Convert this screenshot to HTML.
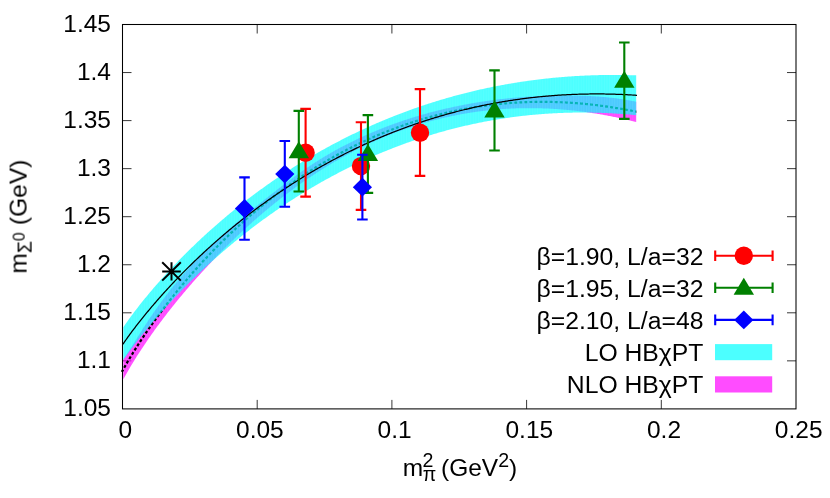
<!DOCTYPE html>
<html><head><meta charset="utf-8"><title>chart</title><style>html,body{margin:0;padding:0;background:#fff}body{width:830px;height:498px;overflow:hidden}</style></head><body>
<svg width="830" height="498" viewBox="0 0 830 498" style="display:block;font-family:'Liberation Sans',sans-serif">
<rect width="830" height="498" fill="#fff"/>
<filter id="g" x="-5%" y="-20%" width="110%" height="140%"><feOffset dx="0" dy="0"/></filter>
<clipPath id="c"><rect x="122.5" y="24.5" width="673.5" height="384.4"/></clipPath>
<path d="M257.20,408.9v-9M257.20,24.5v9M391.90,408.9v-9M391.90,24.5v9M526.60,408.9v-9M526.60,24.5v9M661.30,408.9v-9M661.30,24.5v9M122.5,360.85h9M796.0,360.85h-9M122.5,312.80h9M796.0,312.80h-9M122.5,264.75h9M796.0,264.75h-9M122.5,216.70h9M796.0,216.70h-9M122.5,168.65h9M796.0,168.65h-9M122.5,120.60h9M796.0,120.60h-9M122.5,72.55h9M796.0,72.55h-9" stroke="#000" stroke-width="1" fill="none" stroke-opacity="0.78"/>
<g>
<clipPath id="kd"><rect x="100" y="0" width="536.3" height="498"/></clipPath>
<pattern id="s" x="123.3" y="0" width="2.57" height="40" patternUnits="userSpaceOnUse"><rect x="0" y="0" width="1" height="40" fill="#fff" fill-opacity="0.06"/></pattern>
<clipPath id="km"><polygon points="123.3,359.32 124.0,358.28 125.0,356.79 126.0,355.29 127.0,353.77 128.0,352.24 129.0,350.69 130.0,349.14 131.0,347.57 132.0,346.00 133.0,344.42 134.0,342.84 135.0,341.25 136.0,339.66 137.0,338.08 138.0,336.49 139.0,334.90 140.0,333.32 141.0,331.74 142.0,330.16 143.0,328.59 144.0,327.03 145.0,325.48 146.0,323.94 147.0,322.40 148.0,320.88 149.0,319.37 150.0,317.87 151.0,316.38 152.0,314.91 153.0,313.45 154.0,312.00 155.0,310.56 156.0,309.14 157.0,307.72 158.0,306.32 159.0,304.93 160.0,303.55 161.0,302.18 162.0,300.83 163.0,299.48 164.0,298.15 165.0,296.82 166.0,295.51 167.0,294.21 168.0,292.91 169.0,291.63 170.0,290.36 171.0,289.10 172.0,287.85 173.0,286.61 174.0,285.38 175.0,284.16 176.0,282.95 177.0,281.75 178.0,280.56 179.0,279.38 180.0,278.21 181.0,277.05 182.0,275.89 183.0,274.75 184.0,273.61 185.0,272.49 186.0,271.37 187.0,270.26 188.0,269.16 189.0,268.07 190.0,266.98 191.0,265.90 192.0,264.83 193.0,263.77 194.0,262.71 195.0,261.66 196.0,260.62 197.0,259.58 198.0,258.55 199.0,257.53 200.0,256.51 201.0,255.50 202.0,254.50 203.0,253.50 204.0,252.51 205.0,251.52 206.0,250.54 207.0,249.56 208.0,248.59 209.0,247.62 210.0,246.66 211.0,245.71 212.0,244.76 213.0,243.81 214.0,242.87 215.0,241.93 216.0,241.00 217.0,240.07 218.0,239.15 219.0,238.23 220.0,237.31 221.0,236.40 222.0,235.49 223.0,234.59 224.0,233.69 225.0,232.79 226.0,231.90 227.0,231.01 228.0,230.13 229.0,229.24 230.0,228.37 231.0,227.49 232.0,226.62 233.0,225.75 234.0,224.88 235.0,224.02 236.0,223.16 237.0,222.30 238.0,221.45 239.0,220.60 240.0,219.75 241.0,218.91 242.0,218.06 243.0,217.22 244.0,216.38 245.0,215.55 246.0,214.72 247.0,213.89 248.0,213.06 249.0,212.23 250.0,211.41 251.0,210.59 252.0,209.77 253.0,208.95 254.0,208.13 255.0,207.32 256.0,206.51 257.0,205.70 258.0,204.89 259.0,204.08 260.0,203.28 261.0,202.48 262.0,201.68 263.0,200.88 264.0,200.08 265.0,199.28 266.0,198.49 267.0,197.70 268.0,196.90 269.0,196.11 270.0,195.33 271.0,194.54 272.0,193.75 273.0,192.97 274.0,192.19 275.0,191.41 276.0,190.63 277.0,189.85 278.0,189.08 279.0,188.30 280.0,187.53 281.0,186.77 282.0,186.00 283.0,185.24 284.0,184.48 285.0,183.72 286.0,182.96 287.0,182.21 288.0,181.46 289.0,180.72 290.0,179.97 291.0,179.23 292.0,178.50 293.0,177.76 294.0,177.03 295.0,176.30 296.0,175.58 297.0,174.86 298.0,174.14 299.0,173.43 300.0,172.72 301.0,172.01 302.0,171.31 303.0,170.61 304.0,169.92 305.0,169.23 306.0,168.54 307.0,167.86 308.0,167.18 309.0,166.50 310.0,165.83 311.0,165.17 312.0,164.51 313.0,163.85 314.0,163.20 315.0,162.55 316.0,161.90 317.0,161.26 318.0,160.63 319.0,160.00 320.0,159.37 321.0,158.75 322.0,158.14 323.0,157.53 324.0,156.92 325.0,156.32 326.0,155.72 327.0,155.13 328.0,154.54 329.0,153.96 330.0,153.38 331.0,152.81 332.0,152.24 333.0,151.67 334.0,151.11 335.0,150.56 336.0,150.00 337.0,149.45 338.0,148.91 339.0,148.37 340.0,147.83 341.0,147.30 342.0,146.77 343.0,146.24 344.0,145.72 345.0,145.20 346.0,144.69 347.0,144.17 348.0,143.67 349.0,143.16 350.0,142.66 351.0,142.16 352.0,141.67 353.0,141.18 354.0,140.69 355.0,140.21 356.0,139.73 357.0,139.25 358.0,138.78 359.0,138.31 360.0,137.84 361.0,137.38 362.0,136.92 363.0,136.46 364.0,136.01 365.0,135.56 366.0,135.11 367.0,134.67 368.0,134.23 369.0,133.79 370.0,133.35 371.0,132.92 372.0,132.50 373.0,132.07 374.0,131.65 375.0,131.23 376.0,130.82 377.0,130.40 378.0,129.99 379.0,129.59 380.0,129.18 381.0,128.78 382.0,128.39 383.0,127.99 384.0,127.60 385.0,127.21 386.0,126.83 387.0,126.44 388.0,126.06 389.0,125.69 390.0,125.31 391.0,124.94 392.0,124.57 393.0,124.21 394.0,123.85 395.0,123.49 396.0,123.13 397.0,122.78 398.0,122.42 399.0,122.07 400.0,121.73 401.0,121.39 402.0,121.05 403.0,120.71 404.0,120.37 405.0,120.04 406.0,119.71 407.0,119.38 408.0,119.06 409.0,118.74 410.0,118.42 411.0,118.10 412.0,117.79 413.0,117.48 414.0,117.17 415.0,116.86 416.0,116.56 417.0,116.26 418.0,115.96 419.0,115.66 420.0,115.37 421.0,115.08 422.0,114.79 423.0,114.50 424.0,114.22 425.0,113.94 426.0,113.66 427.0,113.38 428.0,113.11 429.0,112.84 430.0,112.57 431.0,112.30 432.0,112.04 433.0,111.78 434.0,111.52 435.0,111.26 436.0,111.01 437.0,110.76 438.0,110.51 439.0,110.26 440.0,110.01 441.0,109.77 442.0,109.53 443.0,109.29 444.0,109.05 445.0,108.82 446.0,108.59 447.0,108.36 448.0,108.13 449.0,107.91 450.0,107.69 451.0,107.46 452.0,107.25 453.0,107.03 454.0,106.82 455.0,106.60 456.0,106.40 457.0,106.19 458.0,105.98 459.0,105.78 460.0,105.58 461.0,105.38 462.0,105.18 463.0,104.99 464.0,104.80 465.0,104.61 466.0,104.42 467.0,104.23 468.0,104.05 469.0,103.87 470.0,103.69 471.0,103.51 472.0,103.33 473.0,103.16 474.0,102.99 475.0,102.82 476.0,102.65 477.0,102.49 478.0,102.32 479.0,102.16 480.0,102.00 481.0,101.85 482.0,101.69 483.0,101.54 484.0,101.39 485.0,101.24 486.0,101.09 487.0,100.94 488.0,100.80 489.0,100.66 490.0,100.52 491.0,100.38 492.0,100.25 493.0,100.12 494.0,99.99 495.0,99.86 496.0,99.73 497.0,99.60 498.0,99.48 499.0,99.36 500.0,99.24 501.0,99.12 502.0,99.01 503.0,98.89 504.0,98.78 505.0,98.67 506.0,98.56 507.0,98.46 508.0,98.35 509.0,98.25 510.0,98.15 511.0,98.05 512.0,97.96 513.0,97.86 514.0,97.77 515.0,97.68 516.0,97.59 517.0,97.50 518.0,97.42 519.0,97.34 520.0,97.25 521.0,97.17 522.0,97.10 523.0,97.02 524.0,96.95 525.0,96.88 526.0,96.80 527.0,96.74 528.0,96.67 529.0,96.61 530.0,96.54 531.0,96.48 532.0,96.42 533.0,96.36 534.0,96.31 535.0,96.26 536.0,96.20 537.0,96.15 538.0,96.10 539.0,96.06 540.0,96.01 541.0,95.97 542.0,95.93 543.0,95.89 544.0,95.85 545.0,95.82 546.0,95.78 547.0,95.75 548.0,95.72 549.0,95.69 550.0,95.66 551.0,95.64 552.0,95.61 553.0,95.59 554.0,95.57 555.0,95.55 556.0,95.54 557.0,95.52 558.0,95.51 559.0,95.50 560.0,95.49 561.0,95.48 562.0,95.47 563.0,95.47 564.0,95.47 565.0,95.47 566.0,95.47 567.0,95.47 568.0,95.47 569.0,95.48 570.0,95.49 571.0,95.50 572.0,95.51 573.0,95.52 574.0,95.53 575.0,95.55 576.0,95.57 577.0,95.59 578.0,95.61 579.0,95.64 580.0,95.66 581.0,95.69 582.0,95.72 583.0,95.75 584.0,95.79 585.0,95.83 586.0,95.87 587.0,95.91 588.0,95.95 589.0,96.00 590.0,96.05 591.0,96.10 592.0,96.16 593.0,96.22 594.0,96.28 595.0,96.34 596.0,96.40 597.0,96.47 598.0,96.54 599.0,96.62 600.0,96.69 601.0,96.77 602.0,96.86 603.0,96.94 604.0,97.03 605.0,97.12 606.0,97.22 607.0,97.32 608.0,97.42 609.0,97.52 610.0,97.63 611.0,97.74 612.0,97.86 613.0,97.98 614.0,98.10 615.0,98.22 616.0,98.35 617.0,98.48 618.0,98.62 619.0,98.76 620.0,98.90 621.0,99.05 622.0,99.20 623.0,99.35 624.0,99.51 625.0,99.67 626.0,99.84 627.0,100.01 628.0,100.18 629.0,100.36 630.0,100.54 631.0,100.72 632.0,100.91 633.0,101.10 634.0,101.30 635.0,101.50 636.2,101.75 636.2,121.98 635.0,121.67 634.0,121.42 633.0,121.18 632.0,120.93 631.0,120.69 630.0,120.45 629.0,120.21 628.0,119.97 627.0,119.74 626.0,119.51 625.0,119.28 624.0,119.05 623.0,118.82 622.0,118.60 621.0,118.38 620.0,118.16 619.0,117.94 618.0,117.73 617.0,117.52 616.0,117.31 615.0,117.10 614.0,116.90 613.0,116.70 612.0,116.50 611.0,116.30 610.0,116.10 609.0,115.91 608.0,115.72 607.0,115.53 606.0,115.34 605.0,115.16 604.0,114.98 603.0,114.80 602.0,114.62 601.0,114.45 600.0,114.27 599.0,114.10 598.0,113.94 597.0,113.77 596.0,113.61 595.0,113.45 594.0,113.29 593.0,113.13 592.0,112.98 591.0,112.83 590.0,112.68 589.0,112.53 588.0,112.39 587.0,112.24 586.0,112.11 585.0,111.97 584.0,111.83 583.0,111.70 582.0,111.57 581.0,111.44 580.0,111.32 579.0,111.19 578.0,111.07 577.0,110.96 576.0,110.84 575.0,110.73 574.0,110.61 573.0,110.51 572.0,110.40 571.0,110.30 570.0,110.19 569.0,110.10 568.0,110.00 567.0,109.90 566.0,109.81 565.0,109.72 564.0,109.64 563.0,109.55 562.0,109.47 561.0,109.39 560.0,109.31 559.0,109.24 558.0,109.17 557.0,109.10 556.0,109.03 555.0,108.96 554.0,108.90 553.0,108.84 552.0,108.78 551.0,108.73 550.0,108.67 549.0,108.62 548.0,108.58 547.0,108.53 546.0,108.49 545.0,108.45 544.0,108.41 543.0,108.38 542.0,108.34 541.0,108.31 540.0,108.28 539.0,108.26 538.0,108.24 537.0,108.22 536.0,108.20 535.0,108.18 534.0,108.17 533.0,108.16 532.0,108.15 531.0,108.15 530.0,108.14 529.0,108.14 528.0,108.15 527.0,108.15 526.0,108.16 525.0,108.17 524.0,108.18 523.0,108.20 522.0,108.21 521.0,108.23 520.0,108.26 519.0,108.28 518.0,108.31 517.0,108.34 516.0,108.37 515.0,108.41 514.0,108.45 513.0,108.49 512.0,108.53 511.0,108.58 510.0,108.63 509.0,108.68 508.0,108.73 507.0,108.79 506.0,108.85 505.0,108.91 504.0,108.97 503.0,109.04 502.0,109.11 501.0,109.18 500.0,109.26 499.0,109.34 498.0,109.42 497.0,109.50 496.0,109.59 495.0,109.67 494.0,109.76 493.0,109.86 492.0,109.95 491.0,110.05 490.0,110.16 489.0,110.26 488.0,110.37 487.0,110.48 486.0,110.59 485.0,110.70 484.0,110.82 483.0,110.94 482.0,111.07 481.0,111.19 480.0,111.32 479.0,111.45 478.0,111.59 477.0,111.72 476.0,111.86 475.0,112.00 474.0,112.15 473.0,112.30 472.0,112.45 471.0,112.60 470.0,112.76 469.0,112.92 468.0,113.08 467.0,113.24 466.0,113.41 465.0,113.58 464.0,113.75 463.0,113.93 462.0,114.11 461.0,114.29 460.0,114.47 459.0,114.66 458.0,114.85 457.0,115.04 456.0,115.24 455.0,115.44 454.0,115.64 453.0,115.84 452.0,116.05 451.0,116.26 450.0,116.47 449.0,116.69 448.0,116.91 447.0,117.13 446.0,117.35 445.0,117.58 444.0,117.81 443.0,118.04 442.0,118.28 441.0,118.51 440.0,118.76 439.0,119.00 438.0,119.25 437.0,119.50 436.0,119.75 435.0,120.01 434.0,120.27 433.0,120.53 432.0,120.79 431.0,121.06 430.0,121.33 429.0,121.61 428.0,121.88 427.0,122.16 426.0,122.45 425.0,122.73 424.0,123.02 423.0,123.31 422.0,123.61 421.0,123.91 420.0,124.21 419.0,124.51 418.0,124.82 417.0,125.13 416.0,125.44 415.0,125.76 414.0,126.08 413.0,126.40 412.0,126.73 411.0,127.05 410.0,127.39 409.0,127.72 408.0,128.06 407.0,128.40 406.0,128.74 405.0,129.09 404.0,129.44 403.0,129.79 402.0,130.15 401.0,130.51 400.0,130.87 399.0,131.24 398.0,131.61 397.0,131.98 396.0,132.36 395.0,132.73 394.0,133.12 393.0,133.50 392.0,133.89 391.0,134.28 390.0,134.68 389.0,135.07 388.0,135.47 387.0,135.88 386.0,136.29 385.0,136.70 384.0,137.11 383.0,137.53 382.0,137.95 381.0,138.37 380.0,138.80 379.0,139.23 378.0,139.67 377.0,140.10 376.0,140.54 375.0,140.99 374.0,141.43 373.0,141.89 372.0,142.34 371.0,142.80 370.0,143.26 369.0,143.72 368.0,144.19 367.0,144.66 366.0,145.13 365.0,145.61 364.0,146.09 363.0,146.58 362.0,147.06 361.0,147.56 360.0,148.05 359.0,148.55 358.0,149.05 357.0,149.55 356.0,150.06 355.0,150.57 354.0,151.09 353.0,151.61 352.0,152.13 351.0,152.66 350.0,153.18 349.0,153.72 348.0,154.25 347.0,154.79 346.0,155.34 345.0,155.88 344.0,156.43 343.0,156.98 342.0,157.54 341.0,158.10 340.0,158.67 339.0,159.23 338.0,159.80 337.0,160.38 336.0,160.96 335.0,161.54 334.0,162.12 333.0,162.71 332.0,163.30 331.0,163.90 330.0,164.50 329.0,165.10 328.0,165.70 327.0,166.31 326.0,166.93 325.0,167.54 324.0,168.16 323.0,168.79 322.0,169.41 321.0,170.05 320.0,170.68 319.0,171.32 318.0,171.96 317.0,172.61 316.0,173.25 315.0,173.91 314.0,174.56 313.0,175.22 312.0,175.89 311.0,176.55 310.0,177.22 309.0,177.90 308.0,178.58 307.0,179.26 306.0,179.94 305.0,180.63 304.0,181.32 303.0,182.02 302.0,182.72 301.0,183.42 300.0,184.13 299.0,184.84 298.0,185.56 297.0,186.27 296.0,187.00 295.0,187.72 294.0,188.45 293.0,189.18 292.0,189.92 291.0,190.66 290.0,191.41 289.0,192.15 288.0,192.90 287.0,193.66 286.0,194.42 285.0,195.18 284.0,195.95 283.0,196.72 282.0,197.49 281.0,198.27 280.0,199.05 279.0,199.84 278.0,200.63 277.0,201.42 276.0,202.22 275.0,203.02 274.0,203.82 273.0,204.63 272.0,205.44 271.0,206.26 270.0,207.08 269.0,207.90 268.0,208.73 267.0,209.56 266.0,210.39 265.0,211.23 264.0,212.08 263.0,212.92 262.0,213.77 261.0,214.63 260.0,215.49 259.0,216.35 258.0,217.21 257.0,218.08 256.0,218.96 255.0,219.83 254.0,220.72 253.0,221.60 252.0,222.49 251.0,223.38 250.0,224.28 249.0,225.18 248.0,226.09 247.0,227.00 246.0,227.91 245.0,228.83 244.0,229.75 243.0,230.67 242.0,231.60 241.0,232.53 240.0,233.47 239.0,234.41 238.0,235.35 237.0,236.30 236.0,237.26 235.0,238.21 234.0,239.17 233.0,240.14 232.0,241.11 231.0,242.08 230.0,243.06 229.0,244.04 228.0,245.02 227.0,246.01 226.0,247.00 225.0,248.00 224.0,249.00 223.0,250.01 222.0,251.01 221.0,252.03 220.0,253.05 219.0,254.07 218.0,255.09 217.0,256.12 216.0,257.15 215.0,258.19 214.0,259.23 213.0,260.28 212.0,261.33 211.0,262.38 210.0,263.44 209.0,264.51 208.0,265.57 207.0,266.64 206.0,267.72 205.0,268.80 204.0,269.88 203.0,270.97 202.0,272.07 201.0,273.17 200.0,274.27 199.0,275.38 198.0,276.49 197.0,277.60 196.0,278.73 195.0,279.85 194.0,280.98 193.0,282.12 192.0,283.26 191.0,284.41 190.0,285.56 189.0,286.72 188.0,287.88 187.0,289.05 186.0,290.22 185.0,291.40 184.0,292.58 183.0,293.77 182.0,294.96 181.0,296.16 180.0,297.37 179.0,298.58 178.0,299.80 177.0,301.02 176.0,302.25 175.0,303.49 174.0,304.73 173.0,305.98 172.0,307.23 171.0,308.49 170.0,309.76 169.0,311.03 168.0,312.31 167.0,313.60 166.0,314.90 165.0,316.20 164.0,317.50 163.0,318.82 162.0,320.14 161.0,321.47 160.0,322.81 159.0,324.16 158.0,325.51 157.0,326.87 156.0,328.24 155.0,329.62 154.0,331.01 153.0,332.40 152.0,333.80 151.0,335.22 150.0,336.64 149.0,338.07 148.0,339.52 147.0,340.97 146.0,342.43 145.0,343.90 144.0,345.39 143.0,346.88 142.0,348.39 141.0,349.90 140.0,351.43 139.0,352.98 138.0,354.53 137.0,356.10 136.0,357.68 135.0,359.28 134.0,360.89 133.0,362.52 132.0,364.16 131.0,365.82 130.0,367.50 129.0,369.20 128.0,370.91 127.0,372.65 126.0,374.41 125.0,376.20 124.0,378.02 123.3,379.31"/></clipPath><clipPath id="kc"><polygon points="123.3,327.27 124.0,326.23 125.0,324.76 126.0,323.32 127.0,321.90 128.0,320.49 129.0,319.10 130.0,317.72 131.0,316.36 132.0,315.01 133.0,313.67 134.0,312.34 135.0,311.03 136.0,309.72 137.0,308.42 138.0,307.13 139.0,305.85 140.0,304.58 141.0,303.32 142.0,302.07 143.0,300.82 144.0,299.59 145.0,298.36 146.0,297.14 147.0,295.92 148.0,294.71 149.0,293.51 150.0,292.32 151.0,291.14 152.0,289.96 153.0,288.78 154.0,287.62 155.0,286.46 156.0,285.30 157.0,284.15 158.0,283.01 159.0,281.88 160.0,280.75 161.0,279.62 162.0,278.51 163.0,277.39 164.0,276.29 165.0,275.19 166.0,274.09 167.0,273.00 168.0,271.91 169.0,270.84 170.0,269.76 171.0,268.69 172.0,267.63 173.0,266.57 174.0,265.51 175.0,264.46 176.0,263.42 177.0,262.38 178.0,261.35 179.0,260.32 180.0,259.29 181.0,258.27 182.0,257.26 183.0,256.25 184.0,255.24 185.0,254.24 186.0,253.24 187.0,252.25 188.0,251.26 189.0,250.27 190.0,249.29 191.0,248.32 192.0,247.35 193.0,246.38 194.0,245.42 195.0,244.46 196.0,243.51 197.0,242.56 198.0,241.61 199.0,240.67 200.0,239.73 201.0,238.80 202.0,237.87 203.0,236.94 204.0,236.02 205.0,235.10 206.0,234.19 207.0,233.28 208.0,232.37 209.0,231.47 210.0,230.57 211.0,229.67 212.0,228.78 213.0,227.90 214.0,227.01 215.0,226.13 216.0,225.26 217.0,224.38 218.0,223.52 219.0,222.65 220.0,221.79 221.0,220.93 222.0,220.08 223.0,219.23 224.0,218.38 225.0,217.53 226.0,216.69 227.0,215.86 228.0,215.02 229.0,214.19 230.0,213.37 231.0,212.54 232.0,211.72 233.0,210.91 234.0,210.09 235.0,209.29 236.0,208.48 237.0,207.68 238.0,206.88 239.0,206.08 240.0,205.29 241.0,204.50 242.0,203.71 243.0,202.93 244.0,202.15 245.0,201.37 246.0,200.60 247.0,199.83 248.0,199.06 249.0,198.29 250.0,197.53 251.0,196.78 252.0,196.02 253.0,195.27 254.0,194.52 255.0,193.78 256.0,193.03 257.0,192.29 258.0,191.56 259.0,190.82 260.0,190.09 261.0,189.37 262.0,188.64 263.0,187.92 264.0,187.20 265.0,186.49 266.0,185.77 267.0,185.07 268.0,184.36 269.0,183.66 270.0,182.95 271.0,182.26 272.0,181.56 273.0,180.87 274.0,180.18 275.0,179.49 276.0,178.81 277.0,178.13 278.0,177.45 279.0,176.78 280.0,176.11 281.0,175.44 282.0,174.77 283.0,174.11 284.0,173.45 285.0,172.79 286.0,172.13 287.0,171.48 288.0,170.83 289.0,170.18 290.0,169.54 291.0,168.90 292.0,168.26 293.0,167.62 294.0,166.99 295.0,166.36 296.0,165.73 297.0,165.10 298.0,164.48 299.0,163.86 300.0,163.24 301.0,162.63 302.0,162.02 303.0,161.41 304.0,160.80 305.0,160.20 306.0,159.59 307.0,158.99 308.0,158.40 309.0,157.80 310.0,157.21 311.0,156.62 312.0,156.04 313.0,155.45 314.0,154.87 315.0,154.29 316.0,153.72 317.0,153.14 318.0,152.57 319.0,152.00 320.0,151.44 321.0,150.87 322.0,150.31 323.0,149.75 324.0,149.20 325.0,148.64 326.0,148.09 327.0,147.54 328.0,147.00 329.0,146.45 330.0,145.91 331.0,145.37 332.0,144.84 333.0,144.30 334.0,143.77 335.0,143.24 336.0,142.72 337.0,142.19 338.0,141.67 339.0,141.15 340.0,140.63 341.0,140.12 342.0,139.61 343.0,139.10 344.0,138.59 345.0,138.08 346.0,137.58 347.0,137.08 348.0,136.58 349.0,136.08 350.0,135.59 351.0,135.10 352.0,134.61 353.0,134.12 354.0,133.64 355.0,133.16 356.0,132.68 357.0,132.20 358.0,131.72 359.0,131.25 360.0,130.78 361.0,130.31 362.0,129.85 363.0,129.38 364.0,128.92 365.0,128.46 366.0,128.00 367.0,127.55 368.0,127.10 369.0,126.65 370.0,126.20 371.0,125.75 372.0,125.31 373.0,124.87 374.0,124.43 375.0,123.99 376.0,123.55 377.0,123.12 378.0,122.69 379.0,122.26 380.0,121.84 381.0,121.41 382.0,120.99 383.0,120.57 384.0,120.15 385.0,119.74 386.0,119.33 387.0,118.92 388.0,118.51 389.0,118.10 390.0,117.69 391.0,117.29 392.0,116.89 393.0,116.49 394.0,116.10 395.0,115.70 396.0,115.31 397.0,114.92 398.0,114.54 399.0,114.15 400.0,113.77 401.0,113.39 402.0,113.01 403.0,112.63 404.0,112.25 405.0,111.88 406.0,111.51 407.0,111.14 408.0,110.78 409.0,110.41 410.0,110.05 411.0,109.69 412.0,109.33 413.0,108.97 414.0,108.62 415.0,108.27 416.0,107.92 417.0,107.57 418.0,107.22 419.0,106.88 420.0,106.54 421.0,106.20 422.0,105.86 423.0,105.52 424.0,105.19 425.0,104.86 426.0,104.53 427.0,104.20 428.0,103.87 429.0,103.55 430.0,103.23 431.0,102.91 432.0,102.59 433.0,102.27 434.0,101.96 435.0,101.64 436.0,101.33 437.0,101.03 438.0,100.72 439.0,100.42 440.0,100.11 441.0,99.81 442.0,99.51 443.0,99.22 444.0,98.92 445.0,98.63 446.0,98.34 447.0,98.05 448.0,97.77 449.0,97.48 450.0,97.20 451.0,96.92 452.0,96.64 453.0,96.36 454.0,96.09 455.0,95.81 456.0,95.54 457.0,95.27 458.0,95.00 459.0,94.74 460.0,94.47 461.0,94.21 462.0,93.95 463.0,93.69 464.0,93.44 465.0,93.18 466.0,92.93 467.0,92.68 468.0,92.43 469.0,92.19 470.0,91.94 471.0,91.70 472.0,91.46 473.0,91.22 474.0,90.98 475.0,90.74 476.0,90.51 477.0,90.28 478.0,90.05 479.0,89.82 480.0,89.59 481.0,89.37 482.0,89.15 483.0,88.93 484.0,88.71 485.0,88.49 486.0,88.27 487.0,88.06 488.0,87.85 489.0,87.64 490.0,87.43 491.0,87.22 492.0,87.02 493.0,86.82 494.0,86.62 495.0,86.42 496.0,86.22 497.0,86.02 498.0,85.83 499.0,85.64 500.0,85.45 501.0,85.26 502.0,85.07 503.0,84.89 504.0,84.71 505.0,84.52 506.0,84.35 507.0,84.17 508.0,83.99 509.0,83.82 510.0,83.65 511.0,83.47 512.0,83.31 513.0,83.14 514.0,82.97 515.0,82.81 516.0,82.65 517.0,82.49 518.0,82.33 519.0,82.17 520.0,82.02 521.0,81.87 522.0,81.71 523.0,81.56 524.0,81.42 525.0,81.27 526.0,81.13 527.0,80.98 528.0,80.84 529.0,80.70 530.0,80.57 531.0,80.43 532.0,80.30 533.0,80.16 534.0,80.03 535.0,79.90 536.0,79.78 537.0,79.65 538.0,79.53 539.0,79.41 540.0,79.28 541.0,79.17 542.0,79.05 543.0,78.93 544.0,78.82 545.0,78.71 546.0,78.60 547.0,78.49 548.0,78.38 549.0,78.28 550.0,78.17 551.0,78.07 552.0,77.97 553.0,77.87 554.0,77.78 555.0,77.68 556.0,77.59 557.0,77.50 558.0,77.41 559.0,77.32 560.0,77.23 561.0,77.14 562.0,77.06 563.0,76.98 564.0,76.90 565.0,76.82 566.0,76.74 567.0,76.67 568.0,76.59 569.0,76.52 570.0,76.45 571.0,76.38 572.0,76.32 573.0,76.25 574.0,76.19 575.0,76.12 576.0,76.06 577.0,76.00 578.0,75.95 579.0,75.89 580.0,75.84 581.0,75.78 582.0,75.73 583.0,75.68 584.0,75.64 585.0,75.59 586.0,75.55 587.0,75.50 588.0,75.46 589.0,75.42 590.0,75.38 591.0,75.35 592.0,75.31 593.0,75.28 594.0,75.25 595.0,75.22 596.0,75.19 597.0,75.16 598.0,75.14 599.0,75.11 600.0,75.09 601.0,75.07 602.0,75.05 603.0,75.03 604.0,75.02 605.0,75.00 606.0,74.99 607.0,74.98 608.0,74.97 609.0,74.96 610.0,74.96 611.0,74.95 612.0,74.95 613.0,74.95 614.0,74.95 615.0,74.95 616.0,74.95 617.0,74.95 618.0,74.96 619.0,74.97 620.0,74.98 621.0,74.99 622.0,75.00 623.0,75.01 624.0,75.03 625.0,75.05 626.0,75.07 627.0,75.09 628.0,75.11 629.0,75.13 630.0,75.15 631.0,75.18 632.0,75.21 633.0,75.24 634.0,75.27 635.0,75.30 636.2,75.34 636.2,115.19 635.0,115.08 634.0,114.98 633.0,114.89 632.0,114.80 631.0,114.71 630.0,114.62 629.0,114.53 628.0,114.45 627.0,114.37 626.0,114.28 625.0,114.21 624.0,114.13 623.0,114.05 622.0,113.98 621.0,113.91 620.0,113.84 619.0,113.77 618.0,113.70 617.0,113.64 616.0,113.58 615.0,113.51 614.0,113.46 613.0,113.40 612.0,113.34 611.0,113.29 610.0,113.24 609.0,113.19 608.0,113.14 607.0,113.09 606.0,113.05 605.0,113.00 604.0,112.96 603.0,112.92 602.0,112.89 601.0,112.85 600.0,112.82 599.0,112.79 598.0,112.76 597.0,112.73 596.0,112.70 595.0,112.68 594.0,112.66 593.0,112.63 592.0,112.62 591.0,112.60 590.0,112.58 589.0,112.57 588.0,112.56 587.0,112.55 586.0,112.54 585.0,112.54 584.0,112.53 583.0,112.53 582.0,112.53 581.0,112.53 580.0,112.53 579.0,112.54 578.0,112.55 577.0,112.56 576.0,112.57 575.0,112.58 574.0,112.59 573.0,112.61 572.0,112.63 571.0,112.65 570.0,112.67 569.0,112.69 568.0,112.72 567.0,112.75 566.0,112.78 565.0,112.81 564.0,112.84 563.0,112.88 562.0,112.92 561.0,112.96 560.0,113.00 559.0,113.04 558.0,113.08 557.0,113.13 556.0,113.18 555.0,113.23 554.0,113.28 553.0,113.34 552.0,113.39 551.0,113.45 550.0,113.51 549.0,113.57 548.0,113.64 547.0,113.70 546.0,113.77 545.0,113.84 544.0,113.91 543.0,113.99 542.0,114.06 541.0,114.14 540.0,114.22 539.0,114.30 538.0,114.38 537.0,114.47 536.0,114.56 535.0,114.65 534.0,114.74 533.0,114.83 532.0,114.92 531.0,115.02 530.0,115.12 529.0,115.22 528.0,115.32 527.0,115.43 526.0,115.54 525.0,115.64 524.0,115.75 523.0,115.87 522.0,115.98 521.0,116.10 520.0,116.22 519.0,116.34 518.0,116.46 517.0,116.58 516.0,116.71 515.0,116.84 514.0,116.97 513.0,117.10 512.0,117.24 511.0,117.37 510.0,117.51 509.0,117.65 508.0,117.79 507.0,117.94 506.0,118.08 505.0,118.23 504.0,118.38 503.0,118.54 502.0,118.69 501.0,118.85 500.0,119.00 499.0,119.17 498.0,119.33 497.0,119.49 496.0,119.66 495.0,119.83 494.0,120.00 493.0,120.17 492.0,120.34 491.0,120.52 490.0,120.70 489.0,120.88 488.0,121.06 487.0,121.25 486.0,121.43 485.0,121.62 484.0,121.81 483.0,122.01 482.0,122.20 481.0,122.40 480.0,122.60 479.0,122.80 478.0,123.00 477.0,123.21 476.0,123.42 475.0,123.63 474.0,123.84 473.0,124.05 472.0,124.27 471.0,124.48 470.0,124.70 469.0,124.93 468.0,125.15 467.0,125.38 466.0,125.60 465.0,125.83 464.0,126.07 463.0,126.30 462.0,126.54 461.0,126.78 460.0,127.02 459.0,127.26 458.0,127.51 457.0,127.75 456.0,128.00 455.0,128.25 454.0,128.51 453.0,128.76 452.0,129.02 451.0,129.28 450.0,129.54 449.0,129.81 448.0,130.07 447.0,130.34 446.0,130.61 445.0,130.88 444.0,131.16 443.0,131.44 442.0,131.71 441.0,132.00 440.0,132.28 439.0,132.57 438.0,132.85 437.0,133.14 436.0,133.44 435.0,133.73 434.0,134.03 433.0,134.32 432.0,134.63 431.0,134.93 430.0,135.23 429.0,135.54 428.0,135.85 427.0,136.16 426.0,136.48 425.0,136.79 424.0,137.11 423.0,137.43 422.0,137.75 421.0,138.08 420.0,138.41 419.0,138.74 418.0,139.07 417.0,139.40 416.0,139.74 415.0,140.08 414.0,140.42 413.0,140.76 412.0,141.11 411.0,141.45 410.0,141.80 409.0,142.15 408.0,142.51 407.0,142.86 406.0,143.22 405.0,143.58 404.0,143.95 403.0,144.31 402.0,144.68 401.0,145.05 400.0,145.42 399.0,145.80 398.0,146.17 397.0,146.55 396.0,146.93 395.0,147.32 394.0,147.70 393.0,148.09 392.0,148.48 391.0,148.88 390.0,149.27 389.0,149.67 388.0,150.07 387.0,150.47 386.0,150.88 385.0,151.28 384.0,151.69 383.0,152.10 382.0,152.52 381.0,152.93 380.0,153.35 379.0,153.77 378.0,154.20 377.0,154.62 376.0,155.05 375.0,155.48 374.0,155.91 373.0,156.35 372.0,156.79 371.0,157.23 370.0,157.67 369.0,158.11 368.0,158.56 367.0,159.01 366.0,159.46 365.0,159.92 364.0,160.37 363.0,160.83 362.0,161.30 361.0,161.76 360.0,162.23 359.0,162.70 358.0,163.17 357.0,163.64 356.0,164.12 355.0,164.60 354.0,165.08 353.0,165.56 352.0,166.05 351.0,166.54 350.0,167.03 349.0,167.52 348.0,168.02 347.0,168.52 346.0,169.02 345.0,169.52 344.0,170.03 343.0,170.53 342.0,171.05 341.0,171.56 340.0,172.08 339.0,172.59 338.0,173.12 337.0,173.64 336.0,174.17 335.0,174.69 334.0,175.23 333.0,175.76 332.0,176.30 331.0,176.84 330.0,177.38 329.0,177.92 328.0,178.47 327.0,179.02 326.0,179.57 325.0,180.12 324.0,180.68 323.0,181.24 322.0,181.80 321.0,182.37 320.0,182.94 319.0,183.51 318.0,184.08 317.0,184.66 316.0,185.23 315.0,185.82 314.0,186.40 313.0,186.99 312.0,187.57 311.0,188.17 310.0,188.76 309.0,189.36 308.0,189.96 307.0,190.56 306.0,191.16 305.0,191.77 304.0,192.38 303.0,193.00 302.0,193.61 301.0,194.23 300.0,194.85 299.0,195.48 298.0,196.10 297.0,196.73 296.0,197.37 295.0,198.00 294.0,198.64 293.0,199.28 292.0,199.93 291.0,200.57 290.0,201.22 289.0,201.87 288.0,202.53 287.0,203.19 286.0,203.85 285.0,204.51 284.0,205.18 283.0,205.85 282.0,206.52 281.0,207.20 280.0,207.87 279.0,208.55 278.0,209.24 277.0,209.93 276.0,210.61 275.0,211.31 274.0,212.00 273.0,212.70 272.0,213.40 271.0,214.11 270.0,214.82 269.0,215.53 268.0,216.24 267.0,216.96 266.0,217.68 265.0,218.40 264.0,219.12 263.0,219.85 262.0,220.58 261.0,221.32 260.0,222.06 259.0,222.80 258.0,223.54 257.0,224.29 256.0,225.04 255.0,225.79 254.0,226.55 253.0,227.31 252.0,228.07 251.0,228.84 250.0,229.60 249.0,230.38 248.0,231.15 247.0,231.93 246.0,232.71 245.0,233.50 244.0,234.29 243.0,235.08 242.0,235.87 241.0,236.67 240.0,237.47 239.0,238.28 238.0,239.08 237.0,239.90 236.0,240.71 235.0,241.53 234.0,242.35 233.0,243.17 232.0,244.00 231.0,244.83 230.0,245.67 229.0,246.51 228.0,247.35 227.0,248.19 226.0,249.04 225.0,249.90 224.0,250.75 223.0,251.61 222.0,252.47 221.0,253.34 220.0,254.21 219.0,255.08 218.0,255.96 217.0,256.84 216.0,257.73 215.0,258.61 214.0,259.51 213.0,260.40 212.0,261.30 211.0,262.20 210.0,263.11 209.0,264.02 208.0,264.93 207.0,265.85 206.0,266.77 205.0,267.70 204.0,268.63 203.0,269.56 202.0,270.50 201.0,271.44 200.0,272.38 199.0,273.33 198.0,274.29 197.0,275.24 196.0,276.20 195.0,277.17 194.0,278.14 193.0,279.11 192.0,280.09 191.0,281.07 190.0,282.06 189.0,283.05 188.0,284.04 187.0,285.04 186.0,286.04 185.0,287.05 184.0,288.06 183.0,289.08 182.0,290.10 181.0,291.12 180.0,292.15 179.0,293.19 178.0,294.23 177.0,295.27 176.0,296.32 175.0,297.37 174.0,298.43 173.0,299.49 172.0,300.56 171.0,301.63 170.0,302.70 169.0,303.79 168.0,304.87 167.0,305.96 166.0,307.06 165.0,308.16 164.0,309.27 163.0,310.38 162.0,311.50 161.0,312.62 160.0,313.75 159.0,314.89 158.0,316.03 157.0,317.17 156.0,318.32 155.0,319.48 154.0,320.64 153.0,321.81 152.0,322.99 151.0,324.17 150.0,325.36 149.0,326.55 148.0,327.75 147.0,328.96 146.0,330.17 145.0,331.39 144.0,332.62 143.0,333.86 142.0,335.10 141.0,336.35 140.0,337.61 139.0,338.87 138.0,340.14 137.0,341.43 136.0,342.72 135.0,344.02 134.0,345.33 133.0,346.64 132.0,347.97 131.0,349.31 130.0,350.66 129.0,352.03 128.0,353.40 127.0,354.79 126.0,356.19 125.0,357.62 124.0,359.06 123.3,360.08"/></clipPath>
<g clip-path="url(#km)"><rect x="120" y="60" width="520" height="330" fill="#ff00ff" fill-opacity="0.7"/><rect x="120" y="60" width="520" height="330" fill="url(#s)"/></g>
<polyline points="122.4,370.87 123.3,369.36 124.0,368.09 125.0,366.30 126.0,364.54 127.0,362.81 128.0,361.10 129.0,359.41 130.0,357.74 131.0,356.08 132.0,354.44 133.0,352.82 134.0,351.21 135.0,349.61 136.0,348.03 137.0,346.46 138.0,344.90 139.0,343.36 140.0,341.82 141.0,340.30 142.0,338.79 143.0,337.29 144.0,335.79 145.0,334.31 146.0,332.84 147.0,331.38 148.0,329.93 149.0,328.48 150.0,327.05 151.0,325.63 152.0,324.21 153.0,322.80 154.0,321.40 155.0,320.01 156.0,318.63 157.0,317.25 158.0,315.89 159.0,314.53 160.0,313.18 161.0,311.83 162.0,310.50 163.0,309.17 164.0,307.85 165.0,306.53 166.0,305.23 167.0,303.93 168.0,302.64 169.0,301.35 170.0,300.07 171.0,298.80 172.0,297.53 173.0,296.28 174.0,295.02 175.0,293.78 176.0,292.54 177.0,291.31 178.0,290.08 179.0,288.86 180.0,287.65 181.0,286.44 182.0,285.24 183.0,284.04 184.0,282.85 185.0,281.67 186.0,280.49 187.0,279.32 188.0,278.15 189.0,276.99 190.0,275.84 191.0,274.69 192.0,273.55 193.0,272.41 194.0,271.28 195.0,270.15 196.0,269.03 197.0,267.92 198.0,266.81 199.0,265.70 200.0,264.60 201.0,263.51 202.0,262.42 203.0,261.34 204.0,260.26 205.0,259.19 206.0,258.12 207.0,257.06 208.0,256.00 209.0,254.95 210.0,253.90 211.0,252.86 212.0,251.82 213.0,250.79 214.0,249.76 215.0,248.74 216.0,247.72 217.0,246.71 218.0,245.70 219.0,244.70 220.0,243.70 221.0,242.70 222.0,241.72 223.0,240.73 224.0,239.75 225.0,238.78 226.0,237.81 227.0,236.84 228.0,235.88 229.0,234.92 230.0,233.97 231.0,233.02 232.0,232.08 233.0,231.14 234.0,230.21 235.0,229.28 236.0,228.35 237.0,227.43 238.0,226.51 239.0,225.60 240.0,224.69 241.0,223.79 242.0,222.89 243.0,222.00 244.0,221.11 245.0,220.22 246.0,219.34 247.0,218.46 248.0,217.59 249.0,216.72 250.0,215.85 251.0,214.99 252.0,214.13 253.0,213.28 254.0,212.43 255.0,211.59 256.0,210.75 257.0,209.91 258.0,209.08 259.0,208.25 260.0,207.42 261.0,206.60 262.0,205.79 263.0,204.97 264.0,204.17 265.0,203.36 266.0,202.56 267.0,201.76 268.0,200.97 269.0,200.18 270.0,199.40 271.0,198.61 272.0,197.84 273.0,197.06 274.0,196.29 275.0,195.53 276.0,194.77 277.0,194.01 278.0,193.25 279.0,192.50 280.0,191.75 281.0,191.01 282.0,190.27 283.0,189.54 284.0,188.80 285.0,188.07 286.0,187.35 287.0,186.63 288.0,185.91 289.0,185.20 290.0,184.49 291.0,183.78 292.0,183.08 293.0,182.38 294.0,181.68 295.0,180.99 296.0,180.30 297.0,179.61 298.0,178.93 299.0,178.26 300.0,177.58 301.0,176.91 302.0,176.24 303.0,175.58 304.0,174.92 305.0,174.26 306.0,173.61 307.0,172.96 308.0,172.31 309.0,171.67 310.0,171.03 311.0,170.39 312.0,169.76 313.0,169.13 314.0,168.50 315.0,167.88 316.0,167.26 317.0,166.64 318.0,166.03 319.0,165.42 320.0,164.82 321.0,164.21 322.0,163.61 323.0,163.02 324.0,162.43 325.0,161.84 326.0,161.25 327.0,160.67 328.0,160.09 329.0,159.51 330.0,158.94 331.0,158.37 332.0,157.80 333.0,157.24 334.0,156.68 335.0,156.12 336.0,155.57 337.0,155.02 338.0,154.47 339.0,153.93 340.0,153.39 341.0,152.85 342.0,152.32 343.0,151.79 344.0,151.26 345.0,150.73 346.0,150.21 347.0,149.69 348.0,149.18 349.0,148.66 350.0,148.16 351.0,147.65 352.0,147.15 353.0,146.65 354.0,146.15 355.0,145.66 356.0,145.17 357.0,144.68 358.0,144.19 359.0,143.71 360.0,143.23 361.0,142.76 362.0,142.29 363.0,141.82 364.0,141.35 365.0,140.89 366.0,140.43 367.0,139.97 368.0,139.52 369.0,139.06 370.0,138.62 371.0,138.17 372.0,137.73 373.0,137.29 374.0,136.85 375.0,136.42 376.0,135.99 377.0,135.56 378.0,135.14 379.0,134.72 380.0,134.30 381.0,133.88 382.0,133.47 383.0,133.06 384.0,132.65 385.0,132.25 386.0,131.85 387.0,131.45 388.0,131.05 389.0,130.66 390.0,130.27 391.0,129.89 392.0,129.50 393.0,129.12 394.0,128.74 395.0,128.37 396.0,128.00 397.0,127.63 398.0,127.26 399.0,126.89 400.0,126.53 401.0,126.18 402.0,125.82 403.0,125.47 404.0,125.12 405.0,124.77 406.0,124.43 407.0,124.08 408.0,123.75 409.0,123.41 410.0,123.08 411.0,122.75 412.0,122.42 413.0,122.09 414.0,121.77 415.0,121.45 416.0,121.14 417.0,120.82 418.0,120.51 419.0,120.20 420.0,119.90 421.0,119.59 422.0,119.29 423.0,119.00 424.0,118.70 425.0,118.41 426.0,118.12 427.0,117.83 428.0,117.55 429.0,117.27 430.0,116.99 431.0,116.71 432.0,116.44 433.0,116.17 434.0,115.90 435.0,115.64 436.0,115.37 437.0,115.11 438.0,114.86 439.0,114.60 440.0,114.35 441.0,114.10 442.0,113.85 443.0,113.61 444.0,113.37 445.0,113.13 446.0,112.89 447.0,112.66 448.0,112.43 449.0,112.20 450.0,111.97 451.0,111.75 452.0,111.53 453.0,111.31 454.0,111.10 455.0,110.88 456.0,110.67 457.0,110.47 458.0,110.26 459.0,110.06 460.0,109.86 461.0,109.66 462.0,109.47 463.0,109.27 464.0,109.08 465.0,108.90 466.0,108.71 467.0,108.53 468.0,108.35 469.0,108.17 470.0,108.00 471.0,107.83 472.0,107.66 473.0,107.49 474.0,107.33 475.0,107.16 476.0,107.00 477.0,106.85 478.0,106.69 479.0,106.54 480.0,106.39 481.0,106.24 482.0,106.10 483.0,105.96 484.0,105.82 485.0,105.68 486.0,105.55 487.0,105.41 488.0,105.28 489.0,105.16 490.0,105.03 491.0,104.91 492.0,104.79 493.0,104.67 494.0,104.56 495.0,104.44 496.0,104.33 497.0,104.23 498.0,104.12 499.0,104.02 500.0,103.92 501.0,103.82 502.0,103.72 503.0,103.63 504.0,103.54 505.0,103.45 506.0,103.36 507.0,103.28 508.0,103.20 509.0,103.12 510.0,103.04 511.0,102.97 512.0,102.90 513.0,102.83 514.0,102.76 515.0,102.70 516.0,102.64 517.0,102.58 518.0,102.52 519.0,102.46 520.0,102.41 521.0,102.36 522.0,102.31 523.0,102.27 524.0,102.22 525.0,102.18 526.0,102.15 527.0,102.11 528.0,102.07 529.0,102.04 530.0,102.01 531.0,101.99 532.0,101.96 533.0,101.94 534.0,101.92 535.0,101.90 536.0,101.89 537.0,101.87 538.0,101.86 539.0,101.86 540.0,101.85 541.0,101.85 542.0,101.84 543.0,101.85 544.0,101.85 545.0,101.85 546.0,101.86 547.0,101.87 548.0,101.88 549.0,101.90 550.0,101.92 551.0,101.93 552.0,101.96 553.0,101.98 554.0,102.01 555.0,102.03 556.0,102.06 557.0,102.10 558.0,102.13 559.0,102.17 560.0,102.21 561.0,102.25 562.0,102.29 563.0,102.34 564.0,102.39 565.0,102.44 566.0,102.49 567.0,102.55 568.0,102.61 569.0,102.67 570.0,102.73 571.0,102.79 572.0,102.86 573.0,102.93 574.0,103.00 575.0,103.07 576.0,103.14 577.0,103.22 578.0,103.30 579.0,103.38 580.0,103.47 581.0,103.55 582.0,103.64 583.0,103.73 584.0,103.83 585.0,103.92 586.0,104.02 587.0,104.12 588.0,104.22 589.0,104.32 590.0,104.43 591.0,104.54 592.0,104.65 593.0,104.76 594.0,104.87 595.0,104.99 596.0,105.11 597.0,105.23 598.0,105.35 599.0,105.48 600.0,105.61 601.0,105.74 602.0,105.87 603.0,106.00 604.0,106.14 605.0,106.28 606.0,106.42 607.0,106.56 608.0,106.70 609.0,106.85 610.0,107.00 611.0,107.15 612.0,107.30 613.0,107.46 614.0,107.62 615.0,107.78 616.0,107.94 617.0,108.10 618.0,108.27 619.0,108.44 620.0,108.61 621.0,108.78 622.0,108.95 623.0,109.13 624.0,109.31 625.0,109.49 626.0,109.67 627.0,109.86 628.0,110.04 629.0,110.23 630.0,110.42 631.0,110.62 632.0,110.81 633.0,111.01 634.0,111.21 635.0,111.41 636.2,111.66" fill="none" stroke="#000" stroke-width="2.2" stroke-dasharray="0.7 4.36" stroke-dashoffset="0.35" stroke-linecap="square" clip-path="url(#kd)"/>
<g clip-path="url(#kc)"><rect x="120" y="60" width="520" height="330" fill="#00ffff" fill-opacity="0.7"/><rect x="120" y="60" width="520" height="330" fill="url(#s)"/></g>
<polyline points="122.5,344.18 123.3,343.68 124.0,342.64 125.0,341.19 126.0,339.76 127.0,338.34 128.0,336.95 129.0,335.56 130.0,334.19 131.0,332.84 132.0,331.49 133.0,330.16 134.0,328.83 135.0,327.52 136.0,326.22 137.0,324.92 138.0,323.64 139.0,322.36 140.0,321.09 141.0,319.84 142.0,318.58 143.0,317.34 144.0,316.10 145.0,314.88 146.0,313.65 147.0,312.44 148.0,311.23 149.0,310.03 150.0,308.84 151.0,307.65 152.0,306.47 153.0,305.30 154.0,304.13 155.0,302.97 156.0,301.81 157.0,300.66 158.0,299.52 159.0,298.38 160.0,297.25 161.0,296.12 162.0,295.00 163.0,293.89 164.0,292.78 165.0,291.67 166.0,290.58 167.0,289.48 168.0,288.39 169.0,287.31 170.0,286.23 171.0,285.16 172.0,284.09 173.0,283.03 174.0,281.97 175.0,280.92 176.0,279.87 177.0,278.82 178.0,277.79 179.0,276.75 180.0,275.72 181.0,274.70 182.0,273.68 183.0,272.66 184.0,271.65 185.0,270.64 186.0,269.64 187.0,268.64 188.0,267.65 189.0,266.66 190.0,265.68 191.0,264.69 192.0,263.72 193.0,262.75 194.0,261.78 195.0,260.81 196.0,259.85 197.0,258.90 198.0,257.95 199.0,257.00 200.0,256.06 201.0,255.12 202.0,254.18 203.0,253.25 204.0,252.32 205.0,251.40 206.0,250.48 207.0,249.56 208.0,248.65 209.0,247.74 210.0,246.84 211.0,245.94 212.0,245.04 213.0,244.15 214.0,243.26 215.0,242.37 216.0,241.49 217.0,240.61 218.0,239.74 219.0,238.87 220.0,238.00 221.0,237.14 222.0,236.27 223.0,235.42 224.0,234.56 225.0,233.71 226.0,232.87 227.0,232.03 228.0,231.19 229.0,230.35 230.0,229.52 231.0,228.69 232.0,227.86 233.0,227.04 234.0,226.22 235.0,225.41 236.0,224.59 237.0,223.79 238.0,222.98 239.0,222.18 240.0,221.38 241.0,220.58 242.0,219.79 243.0,219.00 244.0,218.22 245.0,217.43 246.0,216.65 247.0,215.88 248.0,215.11 249.0,214.34 250.0,213.57 251.0,212.81 252.0,212.05 253.0,211.29 254.0,210.53 255.0,209.78 256.0,209.04 257.0,208.29 258.0,207.55 259.0,206.81 260.0,206.07 261.0,205.34 262.0,204.61 263.0,203.89 264.0,203.16 265.0,202.44 266.0,201.73 267.0,201.01 268.0,200.30 269.0,199.59 270.0,198.89 271.0,198.18 272.0,197.48 273.0,196.79 274.0,196.09 275.0,195.40 276.0,194.71 277.0,194.03 278.0,193.35 279.0,192.67 280.0,191.99 281.0,191.32 282.0,190.65 283.0,189.98 284.0,189.31 285.0,188.65 286.0,187.99 287.0,187.33 288.0,186.68 289.0,186.03 290.0,185.38 291.0,184.73 292.0,184.09 293.0,183.45 294.0,182.81 295.0,182.18 296.0,181.55 297.0,180.92 298.0,180.29 299.0,179.67 300.0,179.05 301.0,178.43 302.0,177.81 303.0,177.20 304.0,176.59 305.0,175.98 306.0,175.38 307.0,174.78 308.0,174.18 309.0,173.58 310.0,172.99 311.0,172.39 312.0,171.81 313.0,171.22 314.0,170.64 315.0,170.05 316.0,169.48 317.0,168.90 318.0,168.33 319.0,167.76 320.0,167.19 321.0,166.62 322.0,166.06 323.0,165.50 324.0,164.94 325.0,164.38 326.0,163.83 327.0,163.28 328.0,162.73 329.0,162.19 330.0,161.65 331.0,161.11 332.0,160.57 333.0,160.03 334.0,159.50 335.0,158.97 336.0,158.44 337.0,157.92 338.0,157.39 339.0,156.87 340.0,156.35 341.0,155.84 342.0,155.33 343.0,154.82 344.0,154.31 345.0,153.80 346.0,153.30 347.0,152.80 348.0,152.30 349.0,151.80 350.0,151.31 351.0,150.82 352.0,150.33 353.0,149.84 354.0,149.36 355.0,148.88 356.0,148.40 357.0,147.92 358.0,147.45 359.0,146.97 360.0,146.50 361.0,146.04 362.0,145.57 363.0,145.11 364.0,144.65 365.0,144.19 366.0,143.73 367.0,143.28 368.0,142.83 369.0,142.38 370.0,141.93 371.0,141.49 372.0,141.05 373.0,140.61 374.0,140.17 375.0,139.74 376.0,139.30 377.0,138.87 378.0,138.44 379.0,138.02 380.0,137.60 381.0,137.17 382.0,136.75 383.0,136.34 384.0,135.92 385.0,135.51 386.0,135.10 387.0,134.69 388.0,134.29 389.0,133.88 390.0,133.48 391.0,133.08 392.0,132.69 393.0,132.29 394.0,131.90 395.0,131.51 396.0,131.12 397.0,130.74 398.0,130.35 399.0,129.97 400.0,129.59 401.0,129.22 402.0,128.84 403.0,128.47 404.0,128.10 405.0,127.73 406.0,127.37 407.0,127.00 408.0,126.64 409.0,126.28 410.0,125.93 411.0,125.57 412.0,125.22 413.0,124.87 414.0,124.52 415.0,124.17 416.0,123.83 417.0,123.48 418.0,123.14 419.0,122.81 420.0,122.47 421.0,122.14 422.0,121.81 423.0,121.48 424.0,121.15 425.0,120.82 426.0,120.50 427.0,120.18 428.0,119.86 429.0,119.54 430.0,119.23 431.0,118.92 432.0,118.61 433.0,118.30 434.0,117.99 435.0,117.69 436.0,117.38 437.0,117.08 438.0,116.79 439.0,116.49 440.0,116.20 441.0,115.90 442.0,115.61 443.0,115.33 444.0,115.04 445.0,114.76 446.0,114.48 447.0,114.20 448.0,113.92 449.0,113.64 450.0,113.37 451.0,113.10 452.0,112.83 453.0,112.56 454.0,112.30 455.0,112.03 456.0,111.77 457.0,111.51 458.0,111.25 459.0,111.00 460.0,110.75 461.0,110.49 462.0,110.25 463.0,110.00 464.0,109.75 465.0,109.51 466.0,109.27 467.0,109.03 468.0,108.79 469.0,108.56 470.0,108.32 471.0,108.09 472.0,107.86 473.0,107.63 474.0,107.41 475.0,107.18 476.0,106.96 477.0,106.74 478.0,106.53 479.0,106.31 480.0,106.10 481.0,105.88 482.0,105.67 483.0,105.47 484.0,105.26 485.0,105.06 486.0,104.85 487.0,104.65 488.0,104.46 489.0,104.26 490.0,104.07 491.0,103.87 492.0,103.68 493.0,103.49 494.0,103.31 495.0,103.12 496.0,102.94 497.0,102.76 498.0,102.58 499.0,102.40 500.0,102.23 501.0,102.05 502.0,101.88 503.0,101.71 504.0,101.54 505.0,101.38 506.0,101.21 507.0,101.05 508.0,100.89 509.0,100.73 510.0,100.58 511.0,100.42 512.0,100.27 513.0,100.12 514.0,99.97 515.0,99.82 516.0,99.68 517.0,99.54 518.0,99.39 519.0,99.26 520.0,99.12 521.0,98.98 522.0,98.85 523.0,98.72 524.0,98.59 525.0,98.46 526.0,98.33 527.0,98.21 528.0,98.08 529.0,97.96 530.0,97.84 531.0,97.73 532.0,97.61 533.0,97.50 534.0,97.38 535.0,97.27 536.0,97.17 537.0,97.06 538.0,96.96 539.0,96.85 540.0,96.75 541.0,96.65 542.0,96.56 543.0,96.46 544.0,96.37 545.0,96.27 546.0,96.18 547.0,96.10 548.0,96.01 549.0,95.93 550.0,95.84 551.0,95.76 552.0,95.68 553.0,95.61 554.0,95.53 555.0,95.46 556.0,95.38 557.0,95.31 558.0,95.24 559.0,95.18 560.0,95.11 561.0,95.05 562.0,94.99 563.0,94.93 564.0,94.87 565.0,94.82 566.0,94.76 567.0,94.71 568.0,94.66 569.0,94.61 570.0,94.56 571.0,94.52 572.0,94.47 573.0,94.43 574.0,94.39 575.0,94.35 576.0,94.31 577.0,94.28 578.0,94.25 579.0,94.22 580.0,94.19 581.0,94.16 582.0,94.13 583.0,94.11 584.0,94.08 585.0,94.06 586.0,94.04 587.0,94.03 588.0,94.01 589.0,94.00 590.0,93.98 591.0,93.97 592.0,93.96 593.0,93.96 594.0,93.95 595.0,93.95 596.0,93.95 597.0,93.95 598.0,93.95 599.0,93.95 600.0,93.95 601.0,93.96 602.0,93.97 603.0,93.98 604.0,93.99 605.0,94.00 606.0,94.02 607.0,94.04 608.0,94.05 609.0,94.07 610.0,94.10 611.0,94.12 612.0,94.15 613.0,94.17 614.0,94.20 615.0,94.23 616.0,94.26 617.0,94.30 618.0,94.33 619.0,94.37 620.0,94.41 621.0,94.45 622.0,94.49 623.0,94.53 624.0,94.58 625.0,94.63 626.0,94.67 627.0,94.73 628.0,94.78 629.0,94.83 630.0,94.89 631.0,94.94 632.0,95.00 633.0,95.06 634.0,95.12 635.0,95.19 636.2,95.27 637.0,95.30" fill="none" stroke="#000" stroke-width="1.25"/>
</g>
<rect x="122.5" y="24.5" width="673.5" height="384.4" stroke="#000" stroke-width="1.05" fill="none"/>
<g font-size="24.5" fill="#000" filter="url(#g)">
<text x="111.0" y="416.2" text-anchor="end">1.05</text>
<text x="111.0" y="368.1" text-anchor="end">1.1</text>
<text x="111.0" y="320.1" text-anchor="end">1.15</text>
<text x="111.0" y="272.1" text-anchor="end">1.2</text>
<text x="111.0" y="224.0" text-anchor="end">1.25</text>
<text x="111.0" y="175.9" text-anchor="end">1.3</text>
<text x="111.0" y="127.9" text-anchor="end">1.35</text>
<text x="111.0" y="79.9" text-anchor="end">1.4</text>
<text x="111.0" y="31.8" text-anchor="end">1.45</text>
<text x="125.2" y="437.9" text-anchor="middle">0</text>
<text x="259.9" y="437.9" text-anchor="middle">0.05</text>
<text x="394.6" y="437.9" text-anchor="middle">0.1</text>
<text x="529.3" y="437.9" text-anchor="middle">0.15</text>
<text x="664.0" y="437.9" text-anchor="middle">0.2</text>
<text x="798.7" y="437.9" text-anchor="middle">0.25</text>
</g>
<path d="M162.2,271.45h18.6M171.5,262.3v18.3M162.2,262.3l18.6,18.3M162.2,280.59999999999997l18.6,-18.3" stroke="#000" stroke-width="2.0" fill="none"/>
<path d="M305.6,108.9V196.6M300.3,108.9h10.6M300.3,196.6h10.6" stroke="#ff0000" stroke-width="2.1" fill="none"/>
<circle cx="305.6" cy="152.7" r="9.2" fill="#ff0000"/>
<path d="M361.0,122.2V209.9M355.7,122.2h10.6M355.7,209.9h10.6" stroke="#ff0000" stroke-width="2.1" fill="none"/>
<circle cx="361.0" cy="166.1" r="9.2" fill="#ff0000"/>
<path d="M420.0,89.1V175.9M414.7,89.1h10.6M414.7,175.9h10.6" stroke="#ff0000" stroke-width="2.1" fill="none"/>
<circle cx="420.0" cy="132.7" r="9.2" fill="#ff0000"/>
<path d="M298.8,110.9V191.5M293.5,110.9h10.6M293.5,191.5h10.6" stroke="#008000" stroke-width="2.1" fill="none"/>
<polygon points="288.60,158.20 298.80,141.20 309.00,158.20" fill="#008000"/>
<path d="M367.9,115.1V192.9M362.59999999999997,115.1h10.6M362.59999999999997,192.9h10.6" stroke="#008000" stroke-width="2.1" fill="none"/>
<polygon points="357.70,161.00 367.90,144.00 378.10,161.00" fill="#008000"/>
<path d="M494.5,70.4V150.5M489.2,70.4h10.6M489.2,150.5h10.6" stroke="#008000" stroke-width="2.1" fill="none"/>
<polygon points="484.30,117.50 494.50,100.50 504.70,117.50" fill="#008000"/>
<path d="M624.3,42.5V118.9M619.0,42.5h10.6M619.0,118.9h10.6" stroke="#008000" stroke-width="2.1" fill="none"/>
<polygon points="614.10,87.70 624.30,70.70 634.50,87.70" fill="#008000"/>
<path d="M244.5,177.4V239.7M239.2,177.4h10.6M239.2,239.7h10.6" stroke="#0000ff" stroke-width="2.1" fill="none"/>
<polygon points="234.90,208.5 244.5,199.10 254.10,208.5 244.5,217.90" fill="#0000ff"/>
<path d="M284.8,141.0V206.8M279.5,141.0h10.6M279.5,206.8h10.6" stroke="#0000ff" stroke-width="2.1" fill="none"/>
<polygon points="275.20,174.1 284.8,164.70 294.40,174.1 284.8,183.50" fill="#0000ff"/>
<path d="M362.4,154.7V219.5M357.09999999999997,154.7h10.6M357.09999999999997,219.5h10.6" stroke="#0000ff" stroke-width="2.1" fill="none"/>
<polygon points="352.80,187.2 362.4,177.80 372.00,187.2 362.4,196.60" fill="#0000ff"/>
<g font-size="24.72" fill="#000" text-anchor="end" filter="url(#g)">
<text x="703.4" y="264.9">β=1.90, L/a=32</text>
<text x="703.4" y="296.9">β=1.95, L/a=32</text>
<text x="703.4" y="329.0">β=2.10, L/a=48</text>
<text x="703.4" y="361.2">LO HBχPT</text>
<text x="703.4" y="393.2">NLO HBχPT</text>
</g>
<path d="M715.2,255.75H772.6M715.2,250.45v10.6M772.6,250.45v10.6" stroke="#ff0000" stroke-width="2.1" fill="none"/>
<circle cx="743.8" cy="255.75" r="9.2" fill="#ff0000"/>
<path d="M715.2,287.8H772.6M715.2,282.5v10.6M772.6,282.5v10.6" stroke="#008000" stroke-width="2.1" fill="none"/>
<polygon points="733.60,294.80 743.80,277.80 754.00,294.80" fill="#008000"/>
<path d="M715.2,319.9H772.6M715.2,314.59999999999997v10.6M772.6,314.59999999999997v10.6" stroke="#0000ff" stroke-width="2.1" fill="none"/>
<polygon points="734.20,319.9 743.8,310.50 753.40,319.9 743.8,329.30" fill="#0000ff"/>
<rect x="715.0" y="344.1" width="57.2" height="16.1" fill="#00ffff" fill-opacity="0.7"/>
<rect x="715.0" y="376.3" width="57.2" height="16.2" fill="#ff00ff" fill-opacity="0.7"/>
<g filter="url(#g)"><text font-size="24.5" fill="#000" y="475.8"><tspan x="402.8">m</tspan><tspan x="422.4" y="467" font-size="19.6">2</tspan><tspan x="422.8" y="481.3" font-size="19.6">π</tspan><tspan x="441" y="475.8">(GeV</tspan><tspan dy="-8.8" font-size="19.6">2</tspan><tspan dy="8.8">)</tspan></text></g>
<g transform="translate(26.6,273.6) rotate(-90)" filter="url(#g)"><text font-size="24.5" fill="#000" y="0"><tspan x="0">m</tspan><tspan x="20.6" y="5.2" font-size="19.6">Σ</tspan><tspan x="32.6" y="-2" font-size="15.680000000000001">0</tspan><tspan x="48.6" y="0">(GeV)</tspan></text></g>
</svg>
</body></html>
